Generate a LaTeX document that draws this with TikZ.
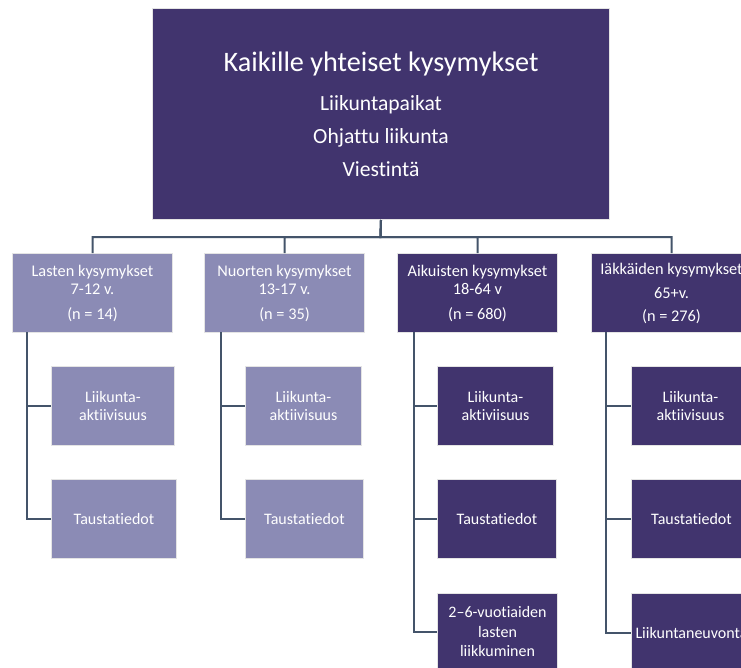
\documentclass[tikz,border=0pt]{standalone}
\usepackage{fontspec}
\setmainfont{Carlito}[Ligatures=NoCommon]
\definecolor{darkp}{HTML}{41346E}
\definecolor{lightp}{HTML}{8B8BB5}
\definecolor{conn}{HTML}{44546A}
\definecolor{edge}{HTML}{E4E4E4}
\tikzset{
  box/.style={rectangle, anchor=north west, draw=edge, line width=1bp, inner sep=0pt,
    text=white, align=center},
  topbox/.style={box, fill=darkp, minimum width=457bp, minimum height=211bp,
    font=\fontsize{21.6bp}{33bp}\selectfont},
  headL/.style={box, fill=lightp, minimum width=160bp, minimum height=79bp,
    font=\fontsize{16.3bp}{18bp}\selectfont},
  headD/.style={headL, fill=darkp},
  childL/.style={box, fill=lightp, minimum height=79bp,
    font=\fontsize{16bp}{18bp}\selectfont},
  childD/.style={childL, fill=darkp},
  link/.style={draw=conn, line width=2bp}
}
\begin{document}
\begin{tikzpicture}[x=1bp,y=-1bp]
\useasboundingbox (0,0) rectangle (741,668);
\clip (0,0) rectangle (741,668);
% top
\node[topbox] (top) at (152,8) {{\fontsize{28.2bp}{33bp}\selectfont Kaikille yhteiset kysymykset}\\[6bp]Liikuntapaikat\\Ohjattu liikunta\\Viestintä};
% headers
\node[headL] (h1) at (12,253) {Lasten kysymykset\\7-12 v.\\[7bp](n = 14)};
\node[headL] (h2) at (204,253) {Nuorten kysymykset\\13-17 v.\\[7bp](n = 35)};
\node[headD] (h3) at (397,253) {Aikuisten kysymykset\\18-64 v\\[7bp](n = 680)};
\node[headD] (h4) at (591,253) {Iäkkäiden kysymykset\\[6bp]65+v.\\[5bp](n = 276)};
% children
\node[childL, minimum width=123bp] (c11) at (51,366) {Liikunta-\\aktiivisuus};
\node[childL, minimum width=125bp] (c12) at (51,479) {Taustatiedot};
\node[childL, minimum width=116bp] (c21) at (245,366) {Liikunta-\\aktiivisuus};
\node[childL, minimum width=118bp] (c22) at (245,479) {Taustatiedot};
\node[childD, minimum width=116bp] (c31) at (437,366) {Liikunta-\\aktiviisuus};
\node[childD, minimum width=119bp] (c32) at (437,479) {Taustatiedot};
\node[childD, minimum width=120bp, minimum height=76bp, font=\fontsize{16bp}{19.5bp}\selectfont] (c33) at (437,593) {2–6-vuotiaiden\\lasten\\liikkuminen};
\node[childD, minimum width=118bp] (c41) at (631,366) {Liikunta-\\aktiivisuus};
\node[childD, minimum width=120bp] (c42) at (631,479) {Taustatiedot};
\node[childD, minimum width=120bp] (c43) at (631,593) {Liikuntaneuvonta};
% connectors
\coordinate (bus) at (380.5,237);
\foreach \h in {h1,h2,h3,h4} \draw[link] (top.south) -- (bus) -| (\h.north);
\coordinate (v1) at (27,332);
\coordinate (v2) at (221,332);
\coordinate (v3) at (414,332);
\coordinate (v4) at (606,332);
\draw[link] (v1) |- (c11.west);
\draw[link] (v1) |- (c12.west);
\draw[link] (v2) |- (c21.west);
\draw[link] (v2) |- (c22.west);
\draw[link] (v3) |- (c31.west);
\draw[link] (v3) |- (c32.west);
\draw[link] (v3) |- (c33.west);
\draw[link] (v4) |- (c41.west);
\draw[link] (v4) |- (c42.west);
\draw[link] (v4) |- (c43.west);
\end{tikzpicture}
\end{document}
